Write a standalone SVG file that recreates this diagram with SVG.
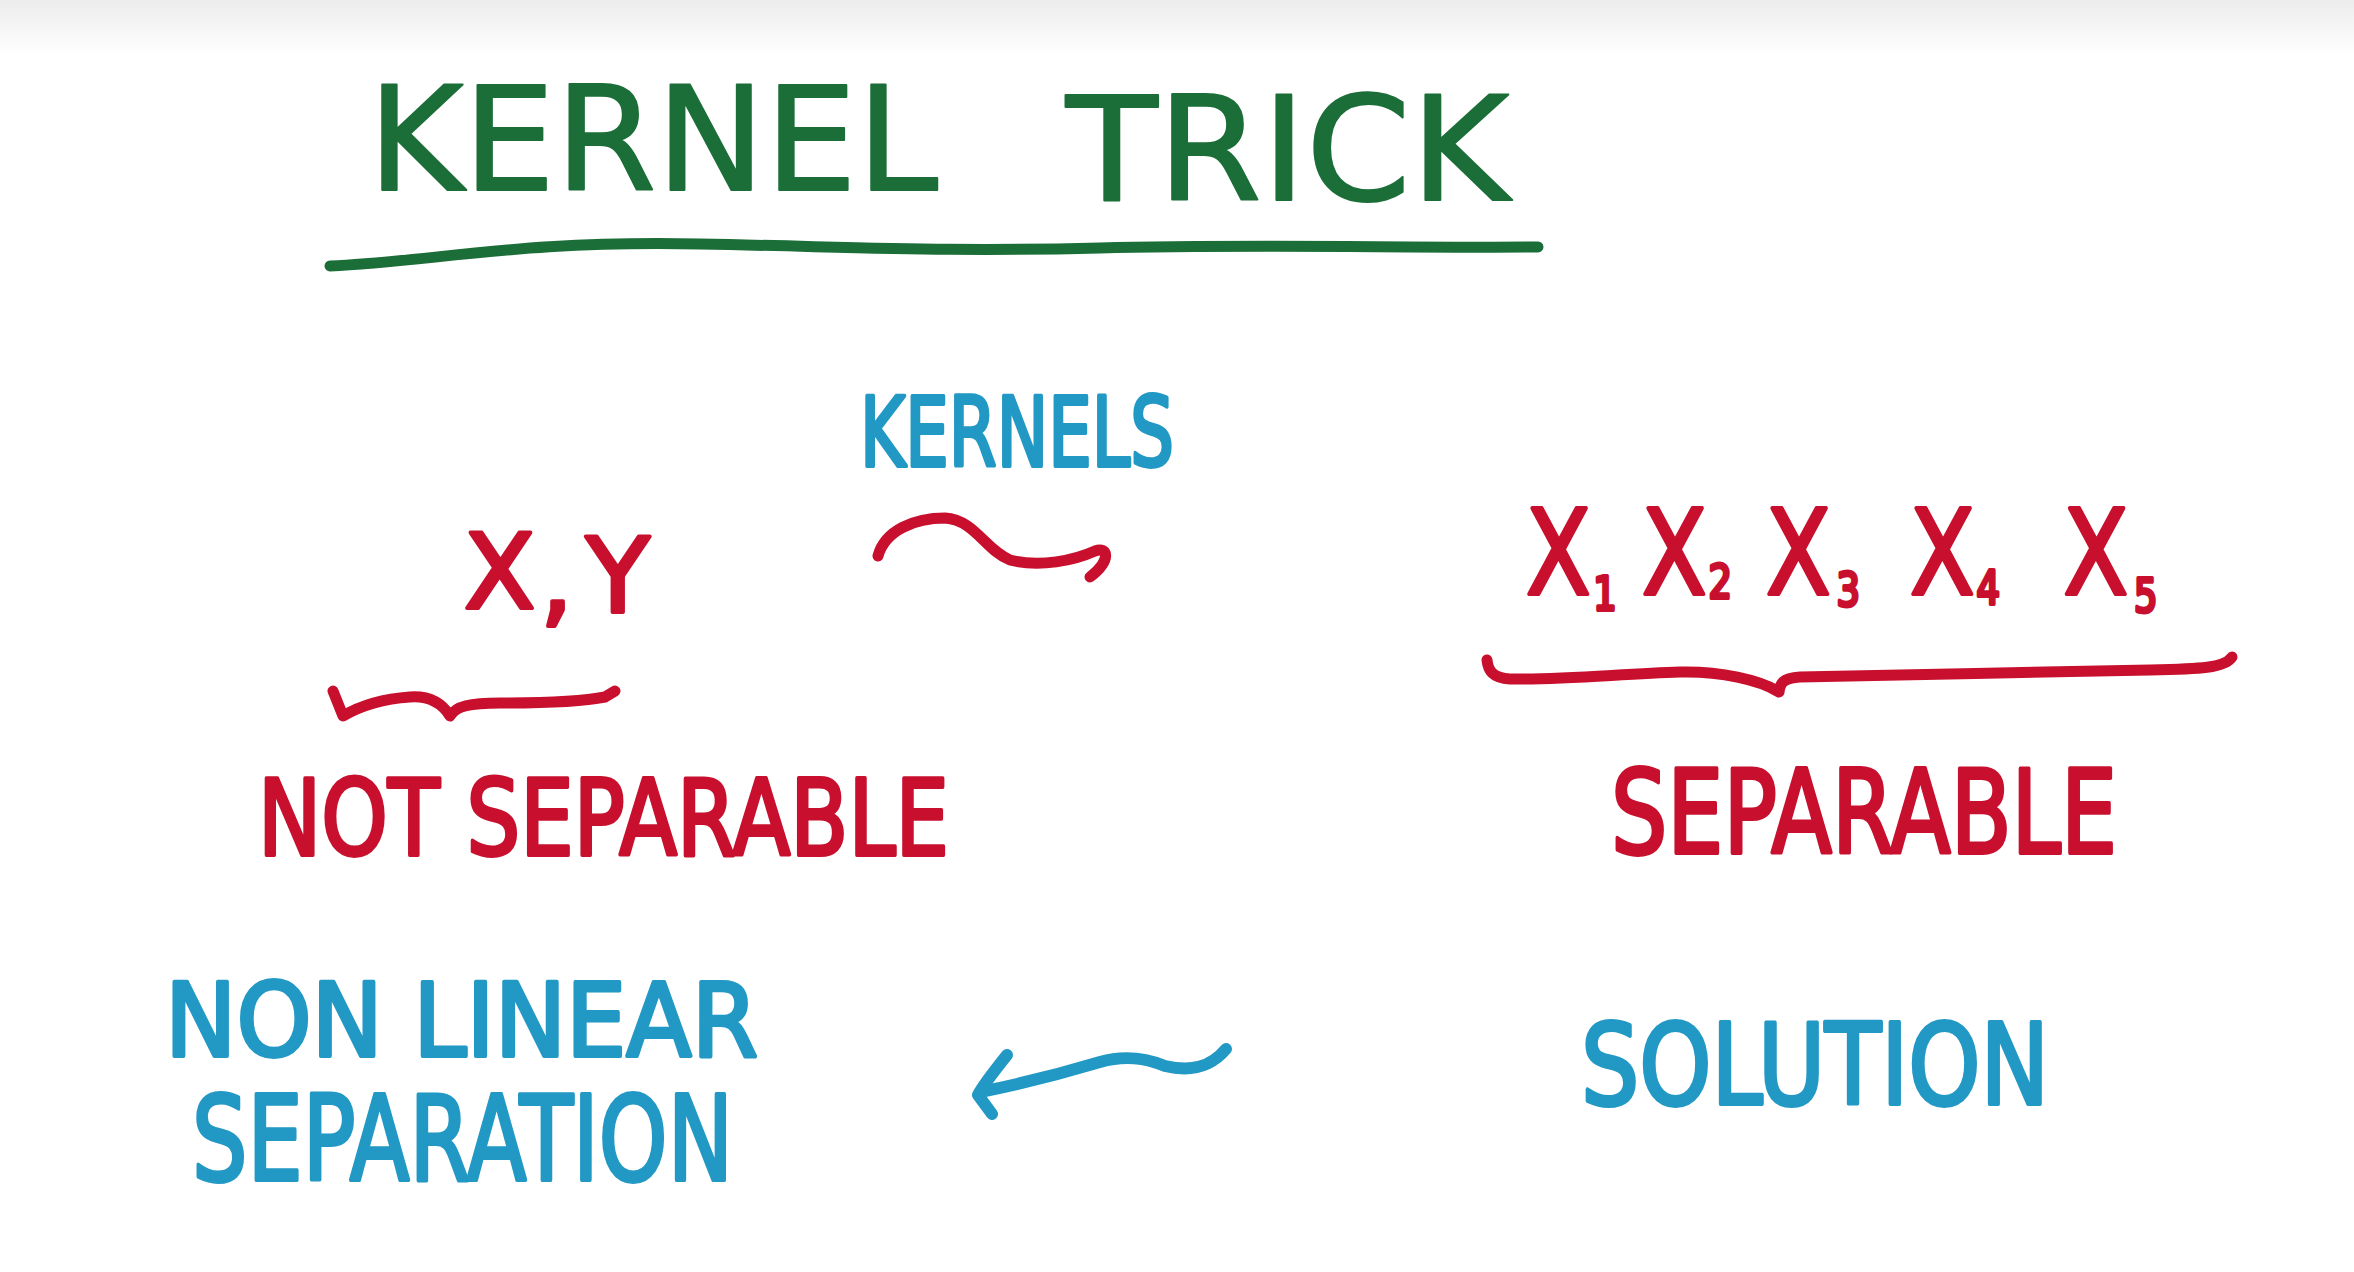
<svg xmlns="http://www.w3.org/2000/svg" width="2354" height="1272" viewBox="0 0 2354 1272">
<defs>
<linearGradient id="topshade" x1="0" y1="0" x2="0" y2="1">
<stop offset="0" stop-color="#ececec"/>
<stop offset="1" stop-color="#ffffff"/>
</linearGradient>
</defs>
<style>
.green{fill:#1b6e38;stroke:#1b6e38;stroke-width:2;stroke-linejoin:round;font-family:"DejaVu Sans",sans-serif;}
.red{fill:#c8102e;stroke:#c8102e;stroke-width:4;stroke-linejoin:round;font-family:"DejaVu Sans",sans-serif;}
.blue{fill:#2298c4;stroke:#2298c4;stroke-width:4;stroke-linejoin:round;font-family:"DejaVu Sans",sans-serif;}
.sub{font-size:46px;}
.redline{fill:none;stroke:#c8102e;stroke-width:11;stroke-linecap:round;stroke-linejoin:round;}
.blueline{fill:none;stroke:#2298c4;stroke-width:12;stroke-linecap:round;stroke-linejoin:round;}
.greenline{fill:none;stroke:#1b6e38;stroke-width:11;stroke-linecap:round;stroke-linejoin:round;}
</style>
<rect x="0" y="0" width="2354" height="1272" fill="#ffffff"/>
<rect x="0" y="0" width="2354" height="55" fill="url(#topshade)"/>

<g id="title">
<text class="green" x="368" y="190" font-size="145" textLength="570" lengthAdjust="spacingAndGlyphs">KERNEL</text>
<text class="green" x="1066" y="200" font-size="145" textLength="443" lengthAdjust="spacingAndGlyphs">TRICK</text>
<path class="greenline" d="M330,266 C430,262 520,240 700,244 C860,247 940,252 1100,248 C1250,244 1400,248 1538,247"/>
</g>

<g id="kernels-label">
<text class="blue" x="860" y="466" font-size="96" textLength="314" lengthAdjust="spacingAndGlyphs">KERNELS</text>
</g>

<g id="xy">
<text class="red" font-size="104"><tspan x="464" y="608">X</tspan><tspan x="540" y="614">,</tspan><tspan x="586" y="612">Y</tspan></text>
<path class="redline" d="M333,691 L343,716 C360,706 380,699 410,697 C425,696 440,700 450,716 C456,706 470,703 500,703 C540,703 580,702 605,697 L615,691"/>
</g>

<g id="not-separable">
<text class="red" x="258" y="855" font-size="106" textLength="691" lengthAdjust="spacingAndGlyphs">NOT SEPARABLE</text>
</g>

<g id="x-features">
<text class="red" font-size="118" transform="translate(1526,0) scale(0.8,1)"><tspan x="0" y="594">X</tspan><tspan class="sub" x="84" y="610">1</tspan><tspan x="145" y="594">X</tspan><tspan class="sub" x="228" y="598">2</tspan><tspan x="300" y="594">X</tspan><tspan class="sub" x="388" y="606">3</tspan><tspan x="480" y="594">X</tspan><tspan class="sub" x="563" y="604">4</tspan><tspan x="672" y="594">X</tspan><tspan class="sub" font-size="52" x="760" y="612">5</tspan></text>
<path class="redline" d="M1487,660 C1488,670 1492,678 1510,679 C1560,680 1620,674 1680,672 C1720,671 1760,680 1779,692 C1780,684 1782,678 1800,677 C1900,674 2050,673 2150,670 C2200,669 2225,668 2232,657"/>
</g>

<g id="separable">
<text class="red" x="1611" y="853" font-size="116" textLength="506" lengthAdjust="spacingAndGlyphs">SEPARABLE</text>
</g>

<g id="non-linear-separation">
<text class="blue" x="165" y="1056" font-size="102" textLength="593" lengthAdjust="spacingAndGlyphs">NON LINEAR</text>
<text class="blue" x="192" y="1180" font-size="118" textLength="541" lengthAdjust="spacingAndGlyphs">SEPARATION</text>
</g>

<g id="solution">
<text class="blue" x="1581" y="1104" font-size="112" textLength="468" lengthAdjust="spacingAndGlyphs">SOLUTION</text>
</g>

<g id="connectors">
<path class="redline" d="M878,556 C885,530 915,518 945,518 C975,520 985,550 1010,560 C1040,568 1075,560 1095,551 C1108,546 1112,560 1090,577"/>
<path class="blueline" d="M1226,1049 C1210,1068 1190,1072 1165,1066 C1145,1058 1125,1055 1100,1062 C1060,1074 1020,1084 980,1092"/>
<path class="blueline" d="M1007,1055 C995,1070 983,1085 978,1095 L992,1114"/>
</g>
</svg>
